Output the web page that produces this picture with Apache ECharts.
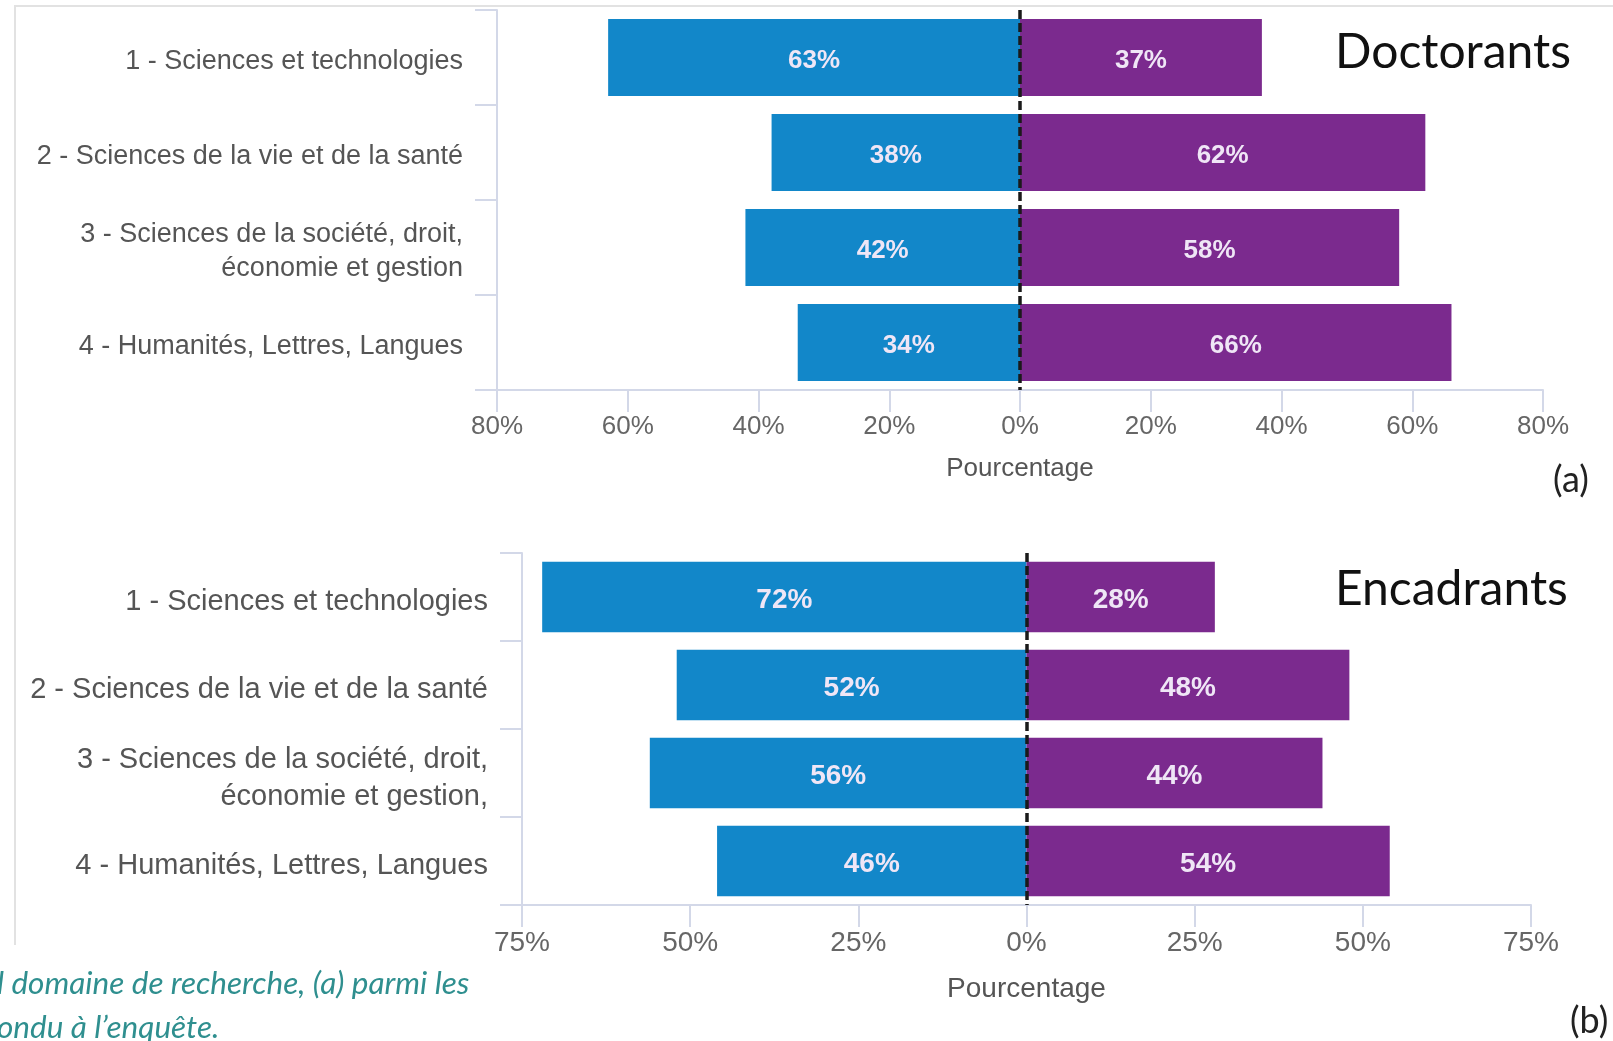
<!DOCTYPE html>
<html>
<head>
<meta charset="utf-8">
<script src="https://cdn.jsdelivr.net/npm/echarts@6/dist/echarts.min.js"></script>
<style>
html,body{margin:0;padding:0;background:#fff;}
#chart{width:1613px;height:1041px;}
</style>
</head>
<body>
<div id="chart"></div>
<script>
const categoriesA = ['1 - Sciences et technologies', '2 - Sciences de la vie et de la santé', '3 - Sciences de la société, droit,\néconomie et gestion', '4 - Humanités, Lettres, Langues'];
const categoriesB = ['1 - Sciences et technologies', '2 - Sciences de la vie et de la santé', '3 - Sciences de la société, droit,\néconomie et gestion,', '4 - Humanités, Lettres, Langues'];
const doctorantsLeft = [63, 38, 42, 34];
const doctorantsRight = [37, 62, 58, 66];
const encadrantsLeft = [72, 52, 56, 46];
const encadrantsRight = [28, 48, 44, 54];
const axisA = { min: -80, max: 80, interval: 20 };
const axisB = { min: -75, max: 75, interval: 25 };

const BLUE = '#1287C9', PURPLE = '#7B2A8E', AXIS = '#d3d8e8';
const absPct = v => Math.abs(v) + '%';

function yAx(gi, cats, fs, lh, pad) {
  return {
    type: 'category', gridIndex: gi, data: cats, inverse: true,
    axisLine: { show: true, onZero: false, lineStyle: { color: AXIS, width: 2 } },
    axisTick: { show: true, length: 22, lineStyle: { color: AXIS, width: 2 } },
    axisLabel: {
      margin: 34, align: 'right', lineHeight: lh,
      formatter: v => v.split('\n').map(s => '{a|' + s + '}').join('\n'),
      rich: { a: { color: '#555', fontSize: fs, fontFamily: 'Liberation Sans, Arial', lineHeight: lh, padding: [pad, 0, 0, 0], align: 'right' } }
    }
  };
}
function xAx(gi, a, fs, gap) {
  return {
    type: 'value', gridIndex: gi, min: a.min, max: a.max, interval: a.interval,
    name: 'Pourcentage', nameLocation: 'middle', nameGap: gap,
    nameTextStyle: { color: '#555', fontSize: fs, fontFamily: 'Liberation Sans, Arial' },
    axisLine: { show: true, onZero: false, lineStyle: { color: AXIS, width: 2 } },
    axisTick: { show: true, length: 22, lineStyle: { color: AXIS, width: 2 } },
    splitLine: { show: false },
    axisLabel: { color: '#666', fontSize: fs, fontFamily: 'Liberation Sans, Arial', margin: 24, formatter: absPct }
  };
}
function barLabel(fs) {
  return { show: true, position: 'inside', offset: [0, 3], color: '#efe6f6', fontSize: fs, fontWeight: 'bold', fontFamily: 'Liberation Sans, Arial', formatter: p => absPct(p.value) };
}
const zeroLine = {
  silent: true, symbol: 'none', label: { show: false },
  lineStyle: { color: '#1a1a1a', type: [9, 4], width: 3.5 },
  data: [{ xAxis: 0 }]
};

const chart = echarts.init(document.getElementById('chart'), null, { renderer: 'canvas' });
chart.setOption({
  animation: false,
  backgroundColor: '#fff',
  grid: [
    { left: 497, top: 10, width: 1046, height: 380 },
    { left: 522, top: 553, width: 1009, height: 352 }
  ],
  xAxis: [xAx(0, axisA, 26, 66), xAx(1, axisB, 28, 70)],
  yAxis: [yAx(0, categoriesA, 27, 34, 8), yAx(1, categoriesB, 29, 37, 10)],
  series: [
    { type: 'bar', xAxisIndex: 0, yAxisIndex: 0, stack: 'a', barCategoryGap: '19%', itemStyle: { color: BLUE },
      data: doctorantsLeft.map(v => -v), label: barLabel(26), markLine: zeroLine },
    { type: 'bar', xAxisIndex: 0, yAxisIndex: 0, stack: 'a', barCategoryGap: '19%', itemStyle: { color: PURPLE },
      data: doctorantsRight, label: barLabel(26) },
    { type: 'bar', xAxisIndex: 1, yAxisIndex: 1, stack: 'b', barCategoryGap: '20%', itemStyle: { color: BLUE },
      data: encadrantsLeft.map(v => -v), label: barLabel(28), markLine: zeroLine },
    { type: 'bar', xAxisIndex: 1, yAxisIndex: 1, stack: 'b', barCategoryGap: '20%', itemStyle: { color: PURPLE },
      data: encadrantsRight, label: barLabel(28) }
  ],
  graphic: [
    { type: 'line', shape: { x1: 14, y1: 6, x2: 1613, y2: 6 }, style: { stroke: '#e2e2e2', lineWidth: 2 } },
    { type: 'line', shape: { x1: 15, y1: 6, x2: 15, y2: 945 }, style: { stroke: '#e2e2e2', lineWidth: 2 } },
    { type: 'text', left: 1335, top: 29, style: { text: 'Doctorants', font: '48px Lato', fill: '#111' } },
    { type: 'text', left: 1335, top: 566, style: { text: 'Encadrants', font: '48px Lato', fill: '#111' } },
    { type: 'text', left: 1553, top: 462, style: { text: '(a)', font: '36px Lato', fill: '#222' } },
    { type: 'text', left: 1570, top: 1003, style: { text: '(b)', font: '36px Lato', fill: '#222' } },
    { type: 'text', left: -3, top: 968, style: { text: 'l domaine de recherche, (a) parmi les', font: 'italic 31.5px Lato', fill: '#2F8F8F' } },
    { type: 'text', left: -3, top: 1012, style: { text: 'ondu à l\u2019enquête.', font: 'italic 31.5px Lato', fill: '#2F8F8F' } }
  ]
});
</script>
</body>
</html>
